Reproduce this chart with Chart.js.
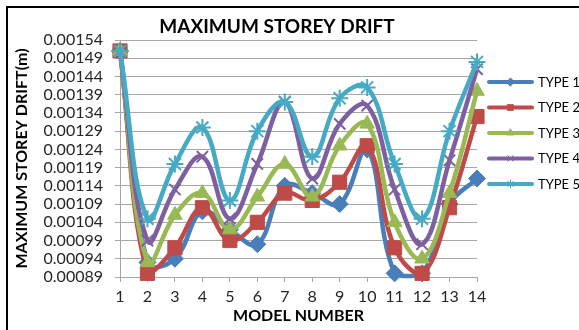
<!DOCTYPE html>
<html>
<head>
<meta charset="utf-8">
<script src="https://cdn.jsdelivr.net/npm/chart.js@4.4.1/dist/chart.umd.min.js"></script>
<style>
  html, body { margin: 0; padding: 0; background: #fff; }
  canvas { display: block; }
</style>
</head>
<body>
<canvas id="drift" width="579" height="330"></canvas>
<script>
// Model numbers along the x axis
const modelNumbers = ['1', '2', '3', '4', '5', '6', '7', '8', '9', '10', '11', '12', '13', '14'];

// Maximum storey drift (m) for each structure type
const type1 = [0.00151, 0.00093, 0.00094, 0.00107, 0.00102, 0.00098, 0.00114, 0.00112, 0.00109, 0.00124, 0.00090, 0.00090, 0.00109, 0.00116];
const type2 = [0.00151, 0.00090, 0.00097, 0.00108, 0.00099, 0.00104, 0.00112, 0.00110, 0.00115, 0.00125, 0.00097, 0.00090, 0.00108, 0.00133];
const type3 = [0.00151, 0.00093, 0.00106, 0.00112, 0.00102, 0.00111, 0.00120, 0.00111, 0.00125, 0.00131, 0.00104, 0.00094, 0.00112, 0.00140];
const type4 = [0.00151, 0.00099, 0.00113, 0.00122, 0.00105, 0.00120, 0.00137, 0.00116, 0.00131, 0.00136, 0.00113, 0.00098, 0.00121, 0.00146];
const type5 = [0.00151, 0.00105, 0.00120, 0.00130, 0.00110, 0.00129, 0.00137, 0.00122, 0.00138, 0.00141, 0.00120, 0.00105, 0.00129, 0.00148];

const seriesNames = ['TYPE 1', 'TYPE 2', 'TYPE 3', 'TYPE 4', 'TYPE 5'];

// Value-axis tick labels
const yTickValues = [0.00089, 0.00094, 0.00099, 0.00104, 0.00109, 0.00114, 0.00119,
                     0.00124, 0.00129, 0.00134, 0.00139, 0.00144, 0.00149, 0.00154];

const FONT = 'Lato';
const seriesStyle = [
  { color: '#4A7EBB', point: 'rectRot',  radius: 8.5 },
  { color: '#BE4B48', point: 'rect',     radius: 10 },
  { color: '#98B954', point: 'triangle', radius: 8.5 },
  { color: '#7D60A0', point: 'crossRot', radius: 8 },
  { color: '#46AAC5', point: 'star',     radius: 8.5 }
];

const seriesData = [type1, type2, type3, type4, type5];

const datasets = seriesData.map((values, i) => ({
  label: seriesNames[i],
  data: values,
  borderColor: seriesStyle[i].color,
  backgroundColor: seriesStyle[i].color,
  borderWidth: 4.5,
  tension: 0.4,
  pointStyle: seriesStyle[i].point,
  pointRadius: seriesStyle[i].radius,
  pointBackgroundColor: seriesStyle[i].color,
  pointBorderColor: seriesStyle[i].color,
  pointBorderWidth: (seriesStyle[i].point === 'crossRot' || seriesStyle[i].point === 'star') ? 2 : 1,
  clip: false,
  order: 4 - i
}));

// Frame, chart title and the line-sample legend on the right
const decorations = {
  id: 'decorations',
  beforeDraw(chart) {
    const ctx = chart.ctx;
    ctx.save();
    ctx.fillStyle = '#ffffff';
    ctx.fillRect(0, 0, chart.width, chart.height);
    ctx.strokeStyle = '#000000';
    ctx.lineWidth = 2;
    ctx.strokeRect(7, 7, chart.width + 20, chart.height + 20);
    ctx.restore();
  },
  afterDraw(chart) {
    const ctx = chart.ctx;
    ctx.save();
    ctx.fillStyle = '#000000';
    ctx.font = 'bold 19px ' + FONT;
    ctx.textAlign = 'center';
    ctx.textBaseline = 'middle';
    ctx.fillText('MAXIMUM STOREY DRIFT', 277, 27);

    chart.data.datasets.forEach((ds, i) => {
      const y = 82 + i * 25.5;
      ctx.strokeStyle = ds.borderColor;
      ctx.lineWidth = 4;
      ctx.lineCap = 'round';
      ctx.beginPath();
      ctx.moveTo(489, y);
      ctx.lineTo(532, y);
      ctx.stroke();
      ctx.fillStyle = ds.pointBackgroundColor;
      ctx.strokeStyle = ds.pointBorderColor;
      ctx.lineWidth = 1;
      Chart.helpers.drawPoint(ctx, {
        pointStyle: ds.pointStyle,
        radius: 4,
        rotation: 0,
        borderWidth: 1
      }, 510.5, y);
      ctx.fillStyle = '#000000';
      ctx.font = '13px ' + FONT;
      ctx.textAlign = 'left';
      ctx.fillText(ds.label, 538, y + 0.5);
    });
    ctx.restore();
  }
};

new Chart(document.getElementById('drift'), {
  type: 'line',
  data: { labels: modelNumbers, datasets: datasets },
  plugins: [decorations],
  options: {
    responsive: false,
    animation: false,
    layout: { padding: { top: 40, right: 102, left: 0, bottom: 0 } },
    plugins: {
      legend: { display: false },
      title: { display: false },
      tooltip: { enabled: false }
    },
    scales: {
      x: {
        offset: false,
        afterFit: s => { s.height = 53; },
        ticks: {
          font: { family: FONT, size: 16 },
          color: '#262626',
          padding: 5,
          maxRotation: 0,
          autoSkip: false
        },
        grid: { drawOnChartArea: false, drawTicks: true, tickLength: 5, tickColor: '#A6A6A6' },
        border: { color: '#A6A6A6', width: 1 },
        title: {
          display: true,
          text: 'MODEL NUMBER',
          font: { family: FONT, size: 16, weight: 'bold' },
          color: '#000000',
          padding: { top: 0, bottom: 5 }
        }
      },
      y: {
        min: 0.00089,
        max: 0.00154,
        afterBuildTicks: s => { s.ticks = yTickValues.map(v => ({ value: v })); },
        afterFit: s => { s.width = 120; },
        ticks: {
          font: { family: FONT, size: 16 },
          color: '#262626',
          padding: 12,
          autoSkip: false,
          callback: v => Number(v).toFixed(5)
        },
        grid: { color: '#A6A6A6', lineWidth: 1, drawTicks: true, tickLength: 5, tickColor: '#A6A6A6' },
        border: { color: '#A6A6A6', width: 1 },
        title: {
          display: true,
          text: 'MAXIMUM STOREY DRIFT(m)',
          font: { family: FONT, size: 16, weight: 'bold' },
          color: '#000000',
          padding: { top: 12, bottom: 0 }
        }
      }
    }
  }
});
</script>
</body>
</html>
